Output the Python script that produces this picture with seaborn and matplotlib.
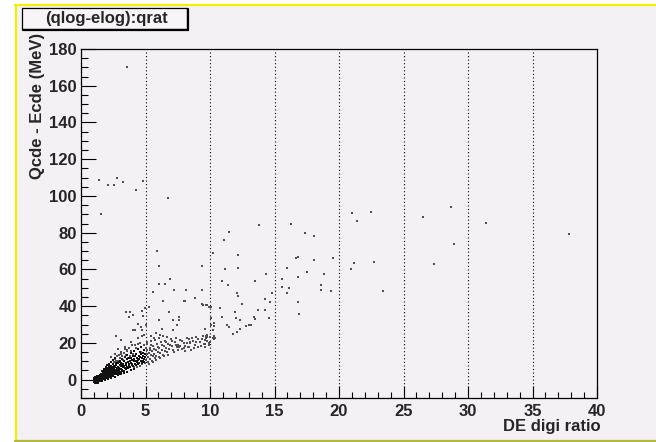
import matplotlib
matplotlib.use("Agg")
import matplotlib.pyplot as plt
from matplotlib.ticker import MultipleLocator
from matplotlib.patches import Rectangle
from matplotlib.lines import Line2D
import seaborn as sns
import pandas as pd

# ---------------- data ----------------
core_x = [0.98,1.00,1.02,1.04,1.05,1.07,1.08,1.10,1.11,1.12,1.14,1.15,1.16,1.18,1.19,1.20,1.21,1.23,1.24,1.25,
          1.27,1.28,1.29,1.31,1.32,1.33,1.35,1.36,1.37,1.39,1.40,1.42,1.43,1.44,1.46,1.47,1.49,1.50,1.52,1.53]
core_y = [-0.5,0.4,-1.2,1.0,-0.2,0.7,-1.6,0.1,1.5,-0.8,0.5,-1.9,1.1,-0.3,0.8,-1.3,1.8,0.2,-0.9,1.3,
          -0.1,-1.7,0.9,-0.6,1.6,0.3,-1.2,1.0,2.2,-0.4,0.6,1.9,-1.0,0.0,1.2,2.6,-0.5,0.7,1.7,3.0]

band_x = [1.56,1.58,1.60,1.61,1.63,1.65,1.66,1.68,1.70,1.71,1.73,1.74,1.76,1.78,1.79,
          1.81,1.83,1.84,1.86,1.88,1.89,1.91,1.93,1.94,1.96,1.98,2.00,2.01,2.03,2.05,2.06,2.08,2.10,2.12,2.13,2.15,2.17,2.19,2.20,
          2.22,2.24,2.25,2.27,2.29,2.31,2.33,2.35,2.36,2.38,2.40,2.42,2.44,2.45,2.47,2.49,2.51,2.53,2.55,2.57,2.59,2.61,2.63,2.65,2.67,2.69,
          2.71,2.73,2.75,2.77,2.79,2.81,2.83,2.85,2.87,2.89,2.91,2.93,2.95,2.97,2.99,3.01,3.03,3.05,3.07,3.09,3.11,3.13,3.15,3.17,3.19,3.21,
          3.24,3.27,3.30,3.33,3.36,3.39,3.42,3.45,3.48,3.51,3.54,3.57,3.60,3.63,3.66,3.69,3.72,3.75,3.78,3.81,3.84,3.87,3.90,3.93,3.96,3.99,
          4.02,4.05,4.08,4.11,4.14,4.17,4.20,4.23,4.26,4.29,4.32,4.35,4.38,4.41,4.44,4.47,4.50,4.53,4.56,4.59,4.62,4.65,4.68,4.71,4.74,4.77,
          4.80,4.83,4.86,4.89,4.92,4.95,4.98,
          1.62,1.75,1.90,2.05,2.20,2.35,2.50,2.65,1.85,2.10,2.35,2.60,2.85,3.10,3.35,3.60,3.85,4.10]
band_y = [0.2,2.4,-0.6,1.3,3.3,0.6,2.0,4.0,1.0,2.8,0.1,3.6,1.7,4.6,2.3,
          0.9,3.1,5.2,1.8,3.9,2.5,0.7,4.4,6.1,2.1,3.4,1.4,5.0,2.8,4.1,6.6,1.9,3.7,5.6,2.6,4.7,1.5,3.2,7.2,
          5.1,2.4,4.0,6.3,3.0,1.9,4.8,7.6,3.6,5.7,2.7,4.3,6.8,3.3,8.4,5.2,2.2,4.6,6.1,3.8,7.3,5.0,2.9,4.2,6.7,9.0,
          3.6,5.5,7.8,4.5,2.8,6.2,8.8,4.0,5.9,7.1,3.3,9.6,5.1,6.6,4.3,8.1,10.4,5.6,7.3,3.9,6.0,9.1,4.8,7.7,11.2,5.3,
          6.9,8.6,4.9,10.0,7.4,12.3,6.1,9.2,8.0,5.7,11.0,7.1,13.6,9.6,6.4,8.4,12.0,7.6,10.3,6.9,14.5,9.0,11.6,7.9,10.8,8.5,
          13.1,7.4,9.9,15.6,11.3,8.7,12.6,10.1,7.9,14.1,9.4,11.8,16.7,10.5,8.6,13.0,11.1,9.3,15.2,12.2,10.0,17.9,13.7,9.1,11.7,14.6,
          10.4,12.9,16.3,9.8,11.5,14.0,12.4,
          4.6,5.6,6.9,7.8,8.6,9.4,10.5,11.6,-0.3,0.4,1.0,1.6,2.3,2.9,3.8,4.4,5.4,6.0]

mid_x = [2.55,2.62,2.70,2.78,2.86,2.94,3.02,3.10,3.18,3.26,3.34,3.42,3.50,3.58,3.66,3.74,3.82,3.90,3.98,4.06,
         4.10,4.25,4.35,4.45,4.55,4.65,4.75,4.85,4.95,5.05,5.15,5.25,5.35,5.45,5.55,5.65,5.75,5.85,5.95,6.05,
         6.15,6.25,6.35,6.45,6.60,6.75,6.90,7.05,7.20,7.35,7.50,7.65,7.80,7.95,8.10,8.25,8.40,8.60,8.75,8.90,
         9.10,9.30,9.45,9.60,9.75,9.90,
         5.03,5.08,5.12,5.17,5.22,5.27,5.32,5.37,5.42,5.47,5.52,5.57,5.62,5.67,5.72,5.78,5.84,5.90,5.96,6.02,6.08,6.14,6.20,6.27,6.34,
         6.41,6.48,6.55,6.62,6.70,6.78,6.86,6.94,7.02,
         7.12,7.25,7.38,7.45,7.52,7.60,7.70,7.82,7.95,8.06,8.18,8.30,8.42,8.55,8.68,8.80,8.95,9.07,9.20,9.35,9.50,9.65,9.80,9.92]
mid_y = [9.5,11.2,10.3,12.6,9.9,13.5,11.8,15.1,12.9,10.8,14.6,16.8,13.2,15.7,11.9,17.4,13.0,15.5,18.6,14.2,
         6.8,17.2,6.9,19.4,7.6,15.3,8.4,18.7,8.9,17.1,20.6,8.7,16.4,19.0,9.8,16.9,21.4,10.8,17.8,22.6,
         11.6,18.9,24.0,12.8,20.5,13.6,18.7,21.3,15.2,22.8,16.3,18.4,20.8,17.1,15.4,20.0,18.0,22.4,17.0,20.4,
         22.0,18.4,23.8,17.6,21.0,18.6,
         10.6,13.8,15.9,9.4,12.1,14.7,11.0,17.2,13.3,10.2,15.4,12.6,18.5,14.1,11.7,16.0,13.0,19.3,15.2,12.4,17.0,14.3,20.4,16.1,13.5,
         18.2,15.6,21.0,17.3,14.9,19.5,16.8,22.1,18.1,
         16.4,20.3,18.6,17.6,19.0,17.8,21.5,16.5,19.7,18.2,22.8,17.5,20.1,16.0,21.2,19.1,23.0,17.6,20.7,22.3,19.2,21.6,24.3,20.2]

spread_x = [2.3,2.6,2.9,3.1,3.4,3.6,3.9,4.2,4.4,4.6,4.9,5.1,5.4,5.8,6.3,5.0,4.4,
            5.87,6.07,10.26,9.38,6.07,6.49,6.90,5.55,6.36,7.23,8.14,8.00,8.10,9.38,8.84,9.40,9.70,9.95,
            5.24,4.96,4.73,4.83,3.50,3.80,3.70,4.00,6.80,7.62,7.59,7.15,7.41,7.10,6.07,4.06,4.21,2.71,3.12,
            4.68,4.70,4.69,5.43,5.66,6.12,6.69,6.56,8.34,8.47,10.30,10.10,10.0,10.3,9.7]
spread_y = [12.5,14.0,16.5,13.8,18.0,16.2,20.5,19.0,22.5,20.0,24.5,19.5,21.0,25.5,27.5,30.0,30.5,
            70.3,62.0,68.9,61.6,52.2,51.8,54.6,47.5,43.0,49.0,49.0,42.8,42.8,48.9,44.4,41.4,40.8,39.8,
            39.8,38.9,37.1,34.7,37.0,36.8,34.0,35.0,36.6,34.1,32.6,32.6,30.0,27.0,32.6,27.0,27.0,23.6,21.6,
            28.8,27.0,23.7,23.7,22.6,24.2,23.3,20.6,22.0,20.6,29.0,33.5,23.0,22.0,24.0]

far_x = [13.8,11.47,11.1,16.28,17.36,18.09,21.03,22.45,21.4,10.2,12.17,12.17,11.19,16.7,16.8,18.09,19.5,21.2,20.9,22.7,
         23.4,15.95,17.5,18.87,16.8,14.34,15.6,13.5,10.95,11.4,15.6,16.1,16.0,18.6,18.6,19.4,12.1,12.2,14.8,14.3,
         14.65,12.5,16.85,16.9,9.46,9.74,10.75,10.1,13.7,14.3,11.9,10.95,13.4,13.5,12.0,12.3,14.6,13.2,13.0,12.8,
         11.3,11.5,11.8,12.1,12.3,10.1,10.3,9.6,9.8,9.7,10.2,10.4,10.3,10.0,9.6,10.2,
         3.54,1.40,2.82,2.12,2.53,3.26,4.83,4.26,6.77,1.53,
         26.5,28.66,28.9,27.4,31.37,37.8]
far_y = [84.3,80.5,76.1,84.7,79.6,78.1,90.6,91.2,86.1,69.2,68.0,60.9,60.0,66.0,66.8,65.1,66.0,63.4,60.5,64.2,
         48.0,60.9,58.5,57.4,56.0,57.4,54.9,53.8,53.5,51.4,50.4,49.8,46.9,51.3,48.6,48.0,46.9,45.3,47.3,43.9,
         42.3,41.3,42.3,35.7,40.9,40.9,39.2,39.3,37.8,37.8,36.6,34.3,33.9,33.2,33.7,32.3,33.3,30.0,29.5,29.0,
         29.7,28.6,25.0,26.1,27.4,30.0,31.0,27.5,23.0,22.5,22.8,22.6,24.0,20.5,19.5,26.8,
         170.0,108.9,109.5,105.8,105.8,107.5,108.4,103.3,98.7,89.9,
         88.8,93.9,73.6,63.1,85.2,79.4]

x_ticks = [0, 5, 10, 15, 20, 25, 30, 35, 40]
y_ticks = [0, 20, 40, 60, 80, 100, 120, 140, 160, 180]
title_text = "(qlog-elog):qrat"
x_label = "DE digi ratio"
y_label = "Qcde - Ecde (MeV)"

dense = pd.DataFrame({"qrat": core_x + band_x, "diff": core_y + band_y})
sparse = pd.DataFrame({"qrat": mid_x + spread_x + far_x, "diff": mid_y + spread_y + far_y})

# ---------------- style ----------------
sns.set_style("ticks")
plt.rcParams['font.family'] = ['Liberation Sans', 'DejaVu Sans']
plt.rcParams['font.weight'] = 'bold'

BG = "#F4F1F4"
W, H = 656, 442
fig = plt.figure(figsize=(W / 100, H / 100), dpi=100, facecolor="white")

# canvas frame (yellow border)
fig.patches.append(Rectangle((15 / W, 0), 1, (H - 5) / H, transform=fig.transFigure,
                             facecolor=BG, edgecolor="none", zorder=-5))
fig.lines.append(Line2D([15.5 / W, 15.5 / W], [1.5 / H, (H - 5) / H], transform=fig.transFigure,
                        color="#F2F000", lw=1.6))
fig.lines.append(Line2D([15 / W, 1], [(H - 5) / H, (H - 5) / H], transform=fig.transFigure,
                        color="#F2F000", lw=1.6))
fig.lines.append(Line2D([15 / W, 1], [1.5 / H, 1.5 / H], transform=fig.transFigure,
                        color="#B4B83C", lw=1.6))

ax = fig.add_axes([81 / W, (H - 398) / H, (597 - 81) / W, (398 - 49) / H])
ax.set_facecolor(BG)

sns.scatterplot(data=sparse, x="qrat", y="diff", ax=ax, marker="s", s=1.4,
                color="#505050", linewidth=0, legend=False)
sns.scatterplot(data=dense, x="qrat", y="diff", ax=ax, marker="s", s=3.0,
                color="#111111", linewidth=0, legend=False)

ax.set_xlim(0, 40)
ax.set_ylim(-10, 180)
ax.set_xticks(x_ticks)
ax.set_yticks(y_ticks)
ax.xaxis.set_minor_locator(MultipleLocator(1))
ax.yaxis.set_minor_locator(MultipleLocator(5))
ax.tick_params(axis="both", which="both", direction="in", top=False, right=False,
               color="black", width=0.8, labelsize=12)
ax.tick_params(axis="y", which="major", length=10.5, pad=3)
ax.tick_params(axis="y", which="minor", length=5.2)
ax.tick_params(axis="x", which="major", length=8.5, pad=4)
ax.tick_params(axis="x", which="minor", length=4.3)
for lab in ax.get_xticklabels() + ax.get_yticklabels():
    lab.set_fontweight("bold")

for xv in x_ticks[1:-1]:
    ax.axvline(xv, color="black", lw=0.8, ls=(0, (1, 2.2)), zorder=0)

for sp in ax.spines.values():
    sp.set_visible(True)
    sp.set_color("black")
    sp.set_linewidth(0.9)

ax.set_xlabel("")
ax.set_ylabel("")
fig.text(601 / W, (H - 426) / H, x_label, ha="right", va="center", fontsize=12, fontweight="bold")
fig.text(38 / W, (H - 33) / H, y_label, ha="center", va="top", rotation=90, fontsize=12, fontweight="bold")

# title box
fig.patches.append(Rectangle((22 / W, (H - 29) / H), 165 / W, 21 / H, transform=fig.transFigure,
                             facecolor="#F7F5F7", edgecolor="black", lw=0.9, zorder=3))
fig.lines.append(Line2D([23 / W, 187.5 / W], [(H - 29.5) / H, (H - 29.5) / H], transform=fig.transFigure,
                        color="black", lw=1.6, zorder=4))
fig.lines.append(Line2D([187.5 / W, 187.5 / W], [(H - 29.5) / H, (H - 9) / H], transform=fig.transFigure,
                        color="black", lw=1.6, zorder=4))
fig.text(106 / W, (H - 18.5) / H, title_text, ha="center", va="center", fontsize=12,
         fontweight="bold", zorder=5)

fig.savefig("out.png", dpi=100, facecolor="white")
